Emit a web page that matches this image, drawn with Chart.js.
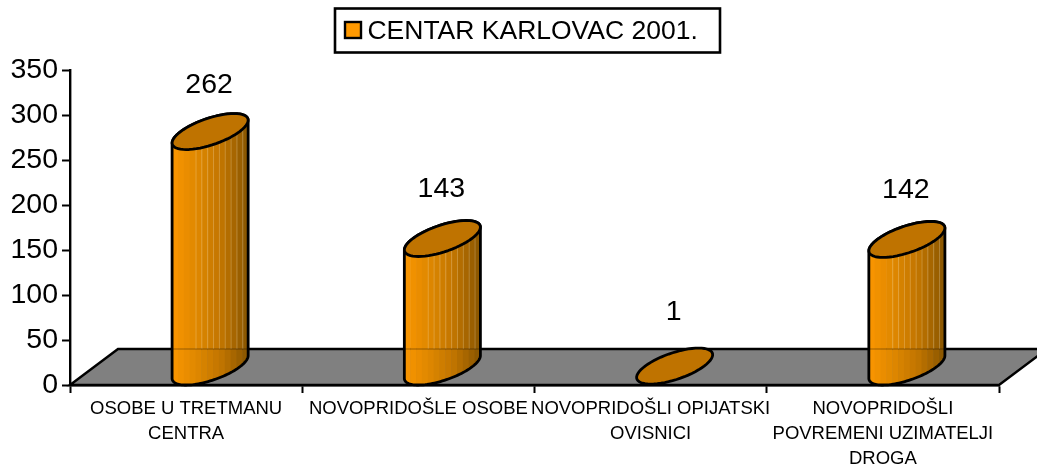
<!DOCTYPE html>
<html><head><meta charset="utf-8">
<script src="https://cdn.jsdelivr.net/npm/chart.js@4/dist/chart.umd.min.js"></script>
<style>html,body{margin:0;padding:0;background:#fff}canvas{display:block}</style>
</head><body><canvas id="c" width="1037" height="466"></canvas>
<script>
const categories = [
  ["OSOBE U TRETMANU","CENTRA"],
  ["NOVOPRIDOŠLE OSOBE"],
  ["NOVOPRIDOŠLI OPIJATSKI","OVISNICI"],
  ["NOVOPRIDOŠLI","POVREMENI UZIMATELJI","DROGA"]
];
const seriesName = "CENTAR KARLOVAC 2001.";
const values = [262, 143, 1, 142];
const FONT = '"Liberation Sans", Arial, sans-serif';
const DX = 48, DY = 36, HALF_W = 29.5;

function lerp(a,b,t){return a+(b-a)*t;}
function sideColor(t){
  const stops=[[250,150,0],[222,135,0],[190,115,0],[135,85,0]];
  const p=t*(stops.length-1), i=Math.min(stops.length-2,Math.floor(p)), f=p-i;
  return stops[i].map((c,k)=>Math.round(lerp(c,stops[i+1][k],f)));
}
function ellipsePath(ctx,cx,cy,from,to,first){
  const dx=DX/2, dy=DY/2;
  for(let i=0;i<=60;i++){
    const t=from+(to-from)*i/60;
    const x=cx+HALF_W*Math.cos(t)+dx*Math.sin(t), y=cy-dy*Math.sin(t);
    if(i===0&&first) ctx.moveTo(x,y); else ctx.lineTo(x,y);
  }
}
const cylinders = {
  id:'cylinders',
  afterUpdate(chart){
    const l=chart.legend;
    l.left+=23; l.right+=23; l.top-=16; l.bottom-=16; l.adjustHitBoxes();
  },
  beforeDatasetsDraw(chart){
    const {ctx,chartArea:a}=chart;
    ctx.save();
    ctx.beginPath();
    ctx.moveTo(a.left,a.bottom);
    ctx.lineTo(a.left+DX,a.bottom-DY);
    ctx.lineTo(a.right+DX,a.bottom-DY);
    ctx.lineTo(a.right,a.bottom);
    ctx.closePath();
    ctx.fillStyle='#808080'; ctx.fill();
    ctx.lineWidth=2.4; ctx.strokeStyle='#000'; ctx.stroke();
    ctx.restore();
  },
  afterDatasetsDraw(chart){
    const {ctx,scales:{y},chartArea:a}=chart;
    const meta=chart.getDatasetMeta(0);
    const base=y.getPixelForValue(0);
    const dx=DX/2, dy=DY/2;
    const hx=Math.hypot(HALF_W,dx);
    const tL=Math.PI+Math.atan2(dx,HALF_W), tR=Math.atan2(dx,HALF_W);
    meta.data.forEach((el,i)=>{
      const cx=el.x+dx, by=base-dy, ty=el.y-dy;
      ctx.save();
      if(values[i]>=5){
        ctx.beginPath();
        ellipsePath(ctx,cx,by,tL,tR+2*Math.PI,true);
        ellipsePath(ctx,cx,ty,tR,tL,false);
        ctx.closePath();
        ctx.save(); ctx.clip();
        const n=13, w=2*hx/n;
        for(let k=0;k<n;k++){
          const c=sideColor((k+.5)/n);
          ctx.fillStyle=`rgb(${c})`;
          ctx.fillRect(cx-hx+k*w,ty-30,w+.5,by-ty+70);
          if(k>3){
            ctx.fillStyle='rgba(255,225,170,.3)';
            ctx.fillRect(cx-hx+k*w,ty-30,1,a.bottom-DY-ty+30);
          }
        }
        ctx.fillStyle='rgba(0,0,0,.18)';
        ctx.fillRect(cx-hx,a.bottom-DY-1,2*hx,2);
        ctx.restore();
        ctx.lineWidth=2.8; ctx.strokeStyle='#000'; ctx.lineJoin='round';
        ctx.stroke();
      }
      ctx.beginPath();
      ellipsePath(ctx,cx,ty,0,2*Math.PI,true);
      ctx.closePath();
      ctx.fillStyle='#bf7300'; ctx.fill();
      ctx.lineWidth=2.8; ctx.strokeStyle='#000'; ctx.stroke();
      ctx.fillStyle='#000';
      ctx.font='28.5px '+FONT;
      ctx.textAlign='center'; ctx.textBaseline='middle';
      ctx.fillText(String(values[i]),cx-1,ty-46-8*(1-values[i]/262));
      ctx.restore();
    });
    ctx.save();
    ctx.strokeStyle='#000'; ctx.lineWidth=2.6;
    ctx.strokeRect(335,8.5,385,44);
    ctx.fillStyle='#ff9900'; ctx.lineWidth=2.4;
    ctx.fillRect(345,22,16,16); ctx.strokeRect(345,22,16,16);
    ctx.restore();
  }
};
new Chart(document.getElementById('c'),{
  type:'bar',
  data:{labels:categories,datasets:[{label:seriesName,data:values,backgroundColor:'rgba(0,0,0,0)',borderWidth:0,barPercentage:.25,categoryPercentage:1}]},
  options:{
    responsive:false,animation:false,
    layout:{padding:{left:0,right:38,top:18,bottom:0}},
    plugins:{
      tooltip:{enabled:false},
      legend:{
        position:'top',align:'center',
        labels:{
          color:'#000',font:{family:FONT,size:26.5},boxWidth:7,boxHeight:7,padding:16,
          generateLabels(){return [{text:seriesName,fillStyle:'rgba(0,0,0,0)',strokeStyle:'rgba(0,0,0,0)',lineWidth:0,hidden:false,datasetIndex:0,fontColor:'#000'}];}
        }
      }
    },
    scales:{
      x:{
        grid:{display:true,drawOnChartArea:false,drawTicks:true,tickLength:8,tickWidth:2,tickColor:'#000',offset:true},
        border:{color:'#000',width:2.4},
        ticks:{color:'#000',font:{family:FONT,size:18.5,lineHeight:1.35},maxRotation:0,autoSkip:false,padding:3},
        afterFit(s){s.height=81;}
      },
      y:{
        min:0,max:350,
        grid:{display:true,drawOnChartArea:false,drawTicks:true,tickLength:8,tickWidth:2,tickColor:'#000'},
        border:{color:'#000',width:2.4},
        ticks:{color:'#000',font:{family:FONT,size:28.5},stepSize:50,padding:4},
        afterFit(s){s.width=70;}
      }
    }
  },
  plugins:[cylinders]
});
</script></body></html>
